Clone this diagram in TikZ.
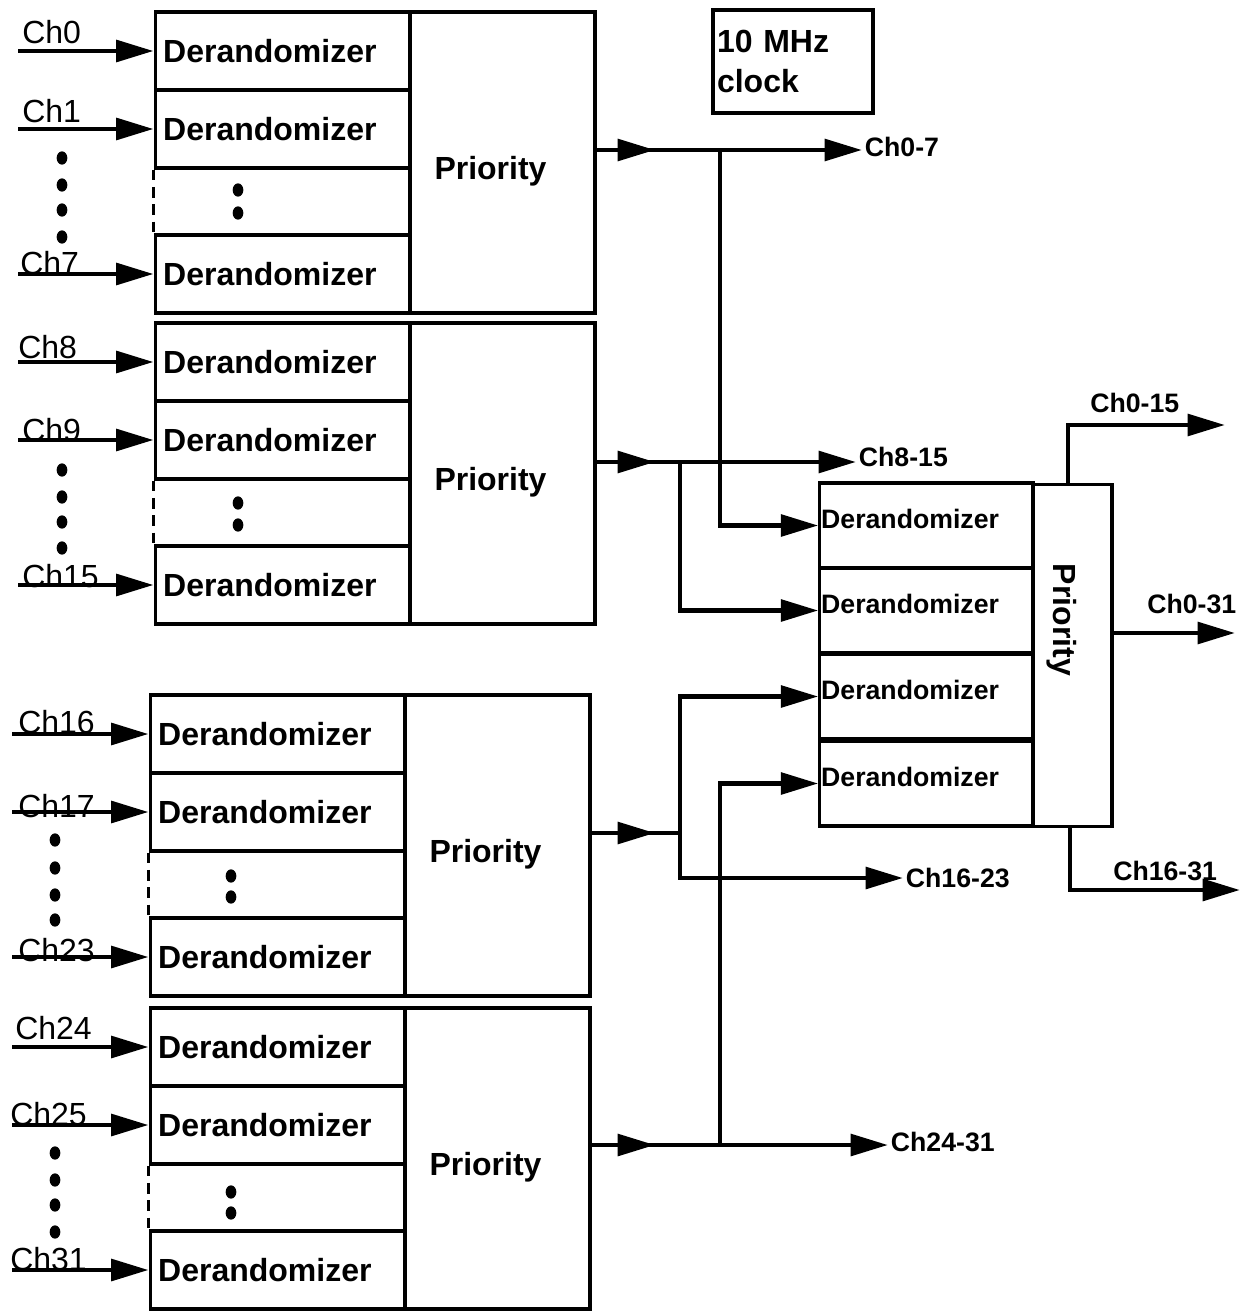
\documentclass[tikz,border=0pt]{standalone}
\usepackage{fontspec}
\setmainfont{Liberation Sans}
\usetikzlibrary{arrows.meta}

\begin{document}
\begin{tikzpicture}[x=0.75pt,y=0.75pt,yscale=-1,xscale=1,
  derand/.style={draw,line width=2.4pt,minimum width=191pt,minimum height=58.5pt,inner sep=6pt,text width=179pt,align=left,font=\fontsize{24}{26}\selectfont\bfseries},
  prio/.style={draw,line width=2.4pt,minimum width=138.75pt,minimum height=225.75pt,inner xsep=18pt,text width=102pt,align=left,text height=30pt,text depth=5pt,font=\fontsize{24}{26}\selectfont\bfseries},
  fderand/.style={draw,line width=2.4pt,minimum width=160pt,minimum height=63.75pt,inner sep=1pt,text width=158pt,align=left,text height=14.5pt,text depth=10.5pt,font=\fontsize{20}{22}\selectfont\bfseries},
  sig/.style={line width=3.6pt,-{Triangle[length=28pt,width=16pt]}},
  wire/.style={line width=3.6pt},
  chin/.style={inner sep=0pt,anchor=base west,font=\fontsize{24}{26}\selectfont},
  chout/.style={inner sep=2pt,anchor=west,font=\fontsize{20}{22}\selectfont\bfseries},
  gapedge/.style={line width=2pt,dash pattern=on 8pt off 5pt},
  dot/.style={x radius=4pt,y radius=5pt},
]
\useasboundingbox (0,0) rectangle (1250,1312);

% Clock
\node[draw,line width=3.2pt,minimum width=120pt,minimum height=77pt,inner sep=3pt,text width=114pt,align=left,font=\fontsize{24}{30}\selectfont\bfseries] (clk) at (793,61.5) {10 MHz\\clock};

%Group Ch0-7
\node[derand] (d1a) at (282.5,51) {Derandomizer};
\node[derand] (d1b) at (282.5,129) {Derandomizer};
\node[derand] (d1d) at (282.5,274) {Derandomizer};
\node[prio] (p1) at (502.5,162.5) {Priority};
\draw[gapedge] (d1b.south west) -- (d1d.north west);
\fill (238,190) ellipse [dot] (238,213) ellipse [dot];
\fill (62,158) ellipse [dot] (62,185) ellipse [dot] (62,210) ellipse [dot] (62,237) ellipse [dot];

%Group Ch8-15
\node[derand] (d2a) at (282.5,362) {Derandomizer};
\node[derand] (d2b) at (282.5,440) {Derandomizer};
\node[derand] (d2d) at (282.5,585) {Derandomizer};
\node[prio] (p2) at (502.5,473.5) {Priority};
\draw[gapedge] (d2b.south west) -- (d2d.north west);
\fill (238,503) ellipse [dot] (238,525) ellipse [dot];
\fill (62,470) ellipse [dot] (62,497) ellipse [dot] (62,522) ellipse [dot] (62,548) ellipse [dot];

%Group Ch16-23
\node[derand] (d3a) at (277.5,734) {Derandomizer};
\node[derand] (d3b) at (277.5,812) {Derandomizer};
\node[derand] (d3d) at (277.5,957) {Derandomizer};
\node[prio] (p3) at (497.5,845.5) {Priority};
\draw[gapedge] (d3b.south west) -- (d3d.north west);
\fill (231,876) ellipse [dot] (231,897) ellipse [dot];
\fill (55,840) ellipse [dot] (55,868) ellipse [dot] (55,895) ellipse [dot] (55,920) ellipse [dot];

%Group Ch24-31
\node[derand] (d4a) at (277.5,1047) {Derandomizer};
\node[derand] (d4b) at (277.5,1125) {Derandomizer};
\node[derand] (d4d) at (277.5,1270) {Derandomizer};
\node[prio] (p4) at (497.5,1158.5) {Priority};
\draw[gapedge] (d4b.south west) -- (d4d.north west);
\fill (231,1192) ellipse [dot] (231,1213) ellipse [dot];
\fill (55,1153) ellipse [dot] (55,1180) ellipse [dot] (55,1205) ellipse [dot] (55,1232) ellipse [dot];

% Input Lines
\coordinate (i0) at (18,51);    \node[chin] (l0) at (22,44) {Ch0};
\coordinate (i1) at (18,129);   \node[chin] (l1) at (22,123) {Ch1};
\coordinate (i7) at (18,274);   \node[chin] (l7) at (20,275) {Ch7};
\coordinate (i8) at (18,362);   \node[chin] (l8) at (18,358) {Ch8};
\coordinate (i9) at (18,440);   \node[chin] (l9) at (22,441) {Ch9};
\coordinate (i15) at (18,585);  \node[chin] (l15) at (22,587) {Ch15};
\coordinate (i16) at (12,734);  \node[chin] (l16) at (18,733) {Ch16};
\coordinate (i17) at (12,812);  \node[chin] (l17) at (18,817) {Ch17};
\coordinate (i23) at (12,957);  \node[chin] (l23) at (18,961) {Ch23};
\coordinate (i24) at (12,1047); \node[chin] (l24) at (15,1039) {Ch24};
\coordinate (i25) at (12,1125); \node[chin] (l25) at (10,1125) {Ch25};
\coordinate (i31) at (12,1270); \node[chin] (l31) at (10,1270) {Ch31};
\draw[sig] (i0) -- (d1a.west);
\draw[sig] (i1) -- (d1b.west);
\draw[sig] (i7) -- (d1d.west);
\draw[sig] (i8) -- (d2a.west);
\draw[sig] (i9) -- (d2b.west);
\draw[sig] (i15) -- (d2d.west);
\draw[sig] (i16) -- (d3a.west);
\draw[sig] (i17) -- (d3b.west);
\draw[sig] (i23) -- (d3d.west);
\draw[sig] (i24) -- (d4a.west);
\draw[sig] (i25) -- (d4b.west);
\draw[sig] (i31) -- (d4d.west);

% Final stage
\node[fderand] (f1) at (926.5,525.5) {Derandomizer};
\node[fderand] (f2) at (926.5,610.5) {Derandomizer};
\node[fderand] (f3) at (926.5,696.5) {Derandomizer};
\node[fderand] (f4) at (926.5,783.5) {Derandomizer};
\node[draw,line width=2.4pt,minimum width=59.25pt,minimum height=256.5pt] (fprio) at (1072.5,655.5) {};
\node[rotate=-90,font=\fontsize{24}{26}\selectfont\bfseries] (fpl) at (1062,620) {Priority};

% Text Node
\node[chout] (l07) at (862,147) {Ch0-7};
\node[chout] (l815) at (856,457) {Ch8-15};
\node[chout] (l1623) at (903,878) {Ch16-23};
\node[chout] (l2431) at (888,1142) {Ch24-31};
\node[chout,anchor=base west,inner sep=0pt] (l015) at (1090,412) {Ch0-15};
\node[chout,anchor=base west,inner sep=0pt] (l031) at (1147,613) {Ch0-31};
\node[chout,anchor=base west,inner sep=0pt] (l1631) at (1113,880) {Ch16-31};

%Straight Lines
\coordinate (o1) at (655,150);  \coordinate (b1) at (720,150);
\draw[sig] (p1.east |- o1) -- (o1 -| l07.west);
\draw[sig] (p1.east |- o1) -- (o1);
\draw[sig] (b1) |- (f1.west);

\coordinate (o2) at (655,462);  \coordinate (b2) at (680,462);
\draw[sig] (p2.east |- o2) -- (o2 -| l815.west);
\draw[sig] (p2.east |- o2) -- (o2);
\draw[sig] (b2) |- (f2.west);

\coordinate (o3) at (655,833);  \coordinate (b3) at (680,833);
\draw[wire] (p3.east |- o3) -- (b3);
\draw[sig] (p3.east |- o3) -- (o3);
\draw[sig] (b3) |- (f3.west);
\draw[sig] (b3) |- (l1623.west);

\coordinate (o4) at (655,1145); \coordinate (b4) at (720,1145);
\draw[sig] (p4.east |- o4) -- (o4 -| l2431.west);
\draw[sig] (p4.east |- o4) -- (o4);
\draw[sig] (b4) |- (f4.west);

\coordinate (t015) at (1068,425);  \coordinate (e015) at (1225,425);
\coordinate (e031) at (1235,633);
\coordinate (t1631) at (1070,890); \coordinate (e1631) at (1240,890);
\draw[sig] (fprio.north -| t015) -- (t015) -- (e015);
\draw[sig] (fprio.east |- e031) -- (e031);
\draw[sig] (fprio.south -| t1631) -- (t1631) -- (e1631);

\end{tikzpicture}
\end{document}
